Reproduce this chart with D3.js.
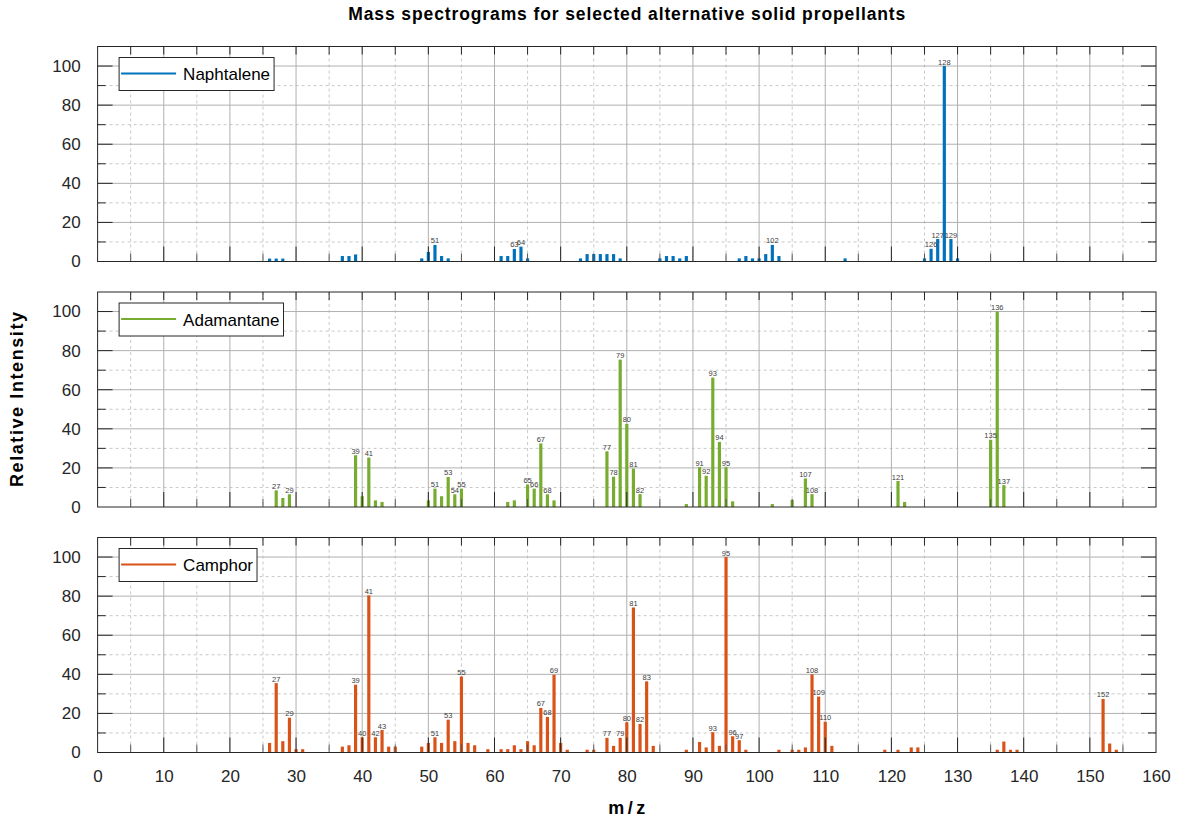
<!DOCTYPE html>
<html>
<head>
<meta charset="utf-8">
<script src="https://cdn.jsdelivr.net/npm/d3@7"></script>
<style>
  html, body { margin: 0; padding: 0; background: #fff; }
  svg { display: block; font-family: "Liberation Sans", Arial, sans-serif; }
</style>
</head>
<body>
<svg id="chart" width="1177" height="822"></svg>
<script>
// ---- Data ----
const seriesNames = ["Naphtalene", "Adamantane", "Camphor"];
const seriesColors = ["#0072BD", "#77AC30", "#D95319"];

const naphMz  = [26,27,28,37,38,39,49,50,51,52,53,61,62,63,64,65,73,74,75,76,77,78,79,85,86,87,88,89,97,98,99,100,101,102,103,113,125,126,127,128,129,130];
const naphVal = [1.5,1.5,1.5,2.8,2.8,3.6,1.6,4.9,8.5,2.8,1.6,2.8,2.8,6.4,7.6,1.6,1.6,3.8,3.8,3.8,3.8,3.8,1.6,1.6,2.8,2.8,1.6,2.8,1.6,2.8,1.6,1.6,3.8,8.5,2.8,1.6,1.6,6.5,11.5,100,11.5,1.6];

const adamMz  = [27,28,29,39,40,41,42,43,50,51,52,53,54,55,62,63,65,66,67,68,69,77,78,79,80,81,82,89,91,92,93,94,95,96,102,105,107,108,121,122,135,136,137];
const adamVal = [8.5,4.6,6.5,26.5,5.5,25.3,3.4,2.6,3.4,9.4,5.5,15.4,6.5,9.4,2.6,3.4,11.5,9.4,32.5,6.5,3.4,28.5,15.5,75.4,42.5,19.7,6.6,1.5,20.4,16,66.2,33.3,20.4,2.9,1.5,3.6,14.6,6.6,13.3,2.6,34.4,100,11.2];

const campMz  = [26,27,28,29,30,31,37,38,39,40,41,42,43,44,45,49,50,51,52,53,54,55,56,57,59,61,62,63,64,65,66,67,68,69,70,71,74,75,77,78,79,80,81,82,83,84,89,91,92,93,94,95,96,97,98,103,105,106,107,108,109,110,111,119,121,123,124,136,137,138,139,152,153,154];
const campVal = [4.9,35.5,5.8,17.8,1.7,1.7,3,3.7,34.7,7.8,80.4,7.8,11.5,3,3,3,4.9,7.8,4.9,16.8,5.8,38.9,4.9,3.7,1.7,1.7,1.7,3.7,1.7,5.8,3.7,22.8,18.2,39.8,4.9,1.4,1.4,1.4,7.5,3.4,7.5,15.5,74.2,14.6,36.4,3.4,1.4,5.4,2.6,10.4,3.4,100,8.3,6.3,1.4,1.4,1.4,1.4,2.6,40,28.6,15.7,3.4,1.4,1.4,2.6,2.6,1.4,5.6,1.4,1.4,27.4,4.6,1.4];

const labelThreshold = 6;           // peaks above this get an m/z annotation
const xTickValues = d3.range(0, 161, 10);
const yTickValues = [0, 20, 40, 60, 80, 100];
const titleText = "Mass spectrograms for selected alternative solid propellants";
const xLabelText = "m/z";
const yLabelText = "Relative Intensity";

// ---- Layout ----
const svg = d3.select("#chart");
const left = 97.6, right = 1156;
const panelTops = [46.5, 292, 537.5];
const panelH = 215;
const axisColor = "#262626";

const x = d3.scaleLinear().domain([0, 160]).range([left, right]);
const barW = (x(1) - x(0)) * 0.48;

const allSeries = [
  {mz: naphMz, val: naphVal},
  {mz: adamMz, val: adamVal},
  {mz: campMz, val: campVal}
];

allSeries.forEach((s, i) => {
  const top = panelTops[i];
  const y = d3.scaleLinear().domain([0, 110]).range([top + panelH, top]);
  const g = svg.append("g");
  const data = s.mz.map((m, k) => ({mz: m, v: s.val[k]}));

  // minor grid (dashed)
  g.append("g").selectAll("line").data(d3.range(5, 160, 10)).join("line")
    .attr("x1", d => x(d)).attr("x2", d => x(d))
    .attr("y1", top).attr("y2", top + panelH)
    .attr("stroke", "#c8c8c8").attr("stroke-width", 1).attr("stroke-dasharray", "3,3");
  g.append("g").selectAll("line").data(d3.range(10, 110, 20)).join("line")
    .attr("x1", left).attr("x2", right)
    .attr("y1", d => y(d)).attr("y2", d => y(d))
    .attr("stroke", "#c8c8c8").attr("stroke-width", 1).attr("stroke-dasharray", "3,3");
  // major grid
  g.append("g").selectAll("line").data(d3.range(10, 160, 10)).join("line")
    .attr("x1", d => x(d)).attr("x2", d => x(d))
    .attr("y1", top).attr("y2", top + panelH)
    .attr("stroke", "#b0b0b0").attr("stroke-width", 1);
  g.append("g").selectAll("line").data(d3.range(20, 110, 20)).join("line")
    .attr("x1", left).attr("x2", right)
    .attr("y1", d => y(d)).attr("y2", d => y(d))
    .attr("stroke", "#b0b0b0").attr("stroke-width", 1);

  // bars
  g.append("g").selectAll("rect").data(data).join("rect")
    .attr("x", d => x(d.mz) - barW / 2)
    .attr("width", barW)
    .attr("y", d => y(d.v))
    .attr("height", d => y(0) - y(d.v))
    .attr("fill", seriesColors[i]);

  // peak labels
  g.append("g").selectAll("text").data(data.filter(d => d.v > labelThreshold)).join("text")
    .attr("x", d => x(d.mz))
    .attr("y", d => y(d.v) - 1.5)
    .attr("text-anchor", "middle")
    .attr("font-size", 7.5)
    .attr("fill", "#404040")
    .text(d => d.mz);

  // ticks (inward)
  const tk = g.append("g").attr("stroke", axisColor).attr("stroke-width", 1);
  d3.range(5, 160, 5).forEach(t => {
    const major = t % 10 === 0;
    const L = major ? 15 : 8;
    tk.append("line").attr("x1", x(t)).attr("x2", x(t))
      .attr("y1", top + panelH).attr("y2", top + panelH - L)
      .attr("stroke", major ? axisColor : "#555");
    tk.append("line").attr("x1", x(t)).attr("x2", x(t))
      .attr("y1", top).attr("y2", top + 8);
  });
  d3.range(10, 110, 10).forEach(t => {
    const major = t % 20 === 0;
    const L = major ? 15 : 8;
    tk.append("line").attr("x1", left).attr("x2", left + L)
      .attr("y1", y(t)).attr("y2", y(t));
    tk.append("line").attr("x1", right).attr("x2", right - L)
      .attr("y1", y(t)).attr("y2", y(t));
  });

  // box
  g.append("rect").attr("x", left).attr("y", top)
    .attr("width", right - left).attr("height", panelH)
    .attr("fill", "none").attr("stroke", axisColor).attr("stroke-width", 1);

  // y axis labels via d3 axis
  const yAxis = d3.axisLeft(y).tickValues(yTickValues).tickSize(0).tickPadding(17);
  const ya = g.append("g").attr("transform", `translate(${left},0)`).call(yAxis);
  ya.select(".domain").remove();
  ya.selectAll("text").attr("font-size", 17).attr("fill", axisColor)
    .attr("font-family", "Liberation Sans, Arial, sans-serif");

  // legend
  const lg = g.append("g").attr("transform", `translate(${left + 21.5},${top + 11})`);
  const txt = lg.append("text").attr("x", 64).attr("y", 17).attr("dy", "0.35em")
    .attr("font-size", 17).attr("fill", "#000").text(seriesNames[i]);
  const tw = txt.node().getComputedTextLength();
  lg.insert("rect", "text").attr("x", 0).attr("y", 0)
    .attr("width", 64 + tw + 4).attr("height", 33)
    .attr("fill", "#fff").attr("stroke", axisColor).attr("stroke-width", 1);
  lg.append("line").attr("x1", 2).attr("x2", 57).attr("y1", 16).attr("y2", 16)
    .attr("stroke", seriesColors[i]).attr("stroke-width", 2);

  if (i === 2) {
    const xAxis = d3.axisBottom(x).tickValues(xTickValues).tickSize(0).tickPadding(17);
    const xa = g.append("g").attr("transform", `translate(0,${top + panelH})`).call(xAxis);
    xa.select(".domain").remove();
    xa.selectAll("text").attr("font-size", 17).attr("fill", axisColor)
      .attr("font-family", "Liberation Sans, Arial, sans-serif");
  }
});

// title and axis labels
svg.append("text").attr("x", (left + right) / 2).attr("y", 14).attr("dy", "0.35em")
  .attr("text-anchor", "middle").attr("font-weight", "bold").attr("font-size", 17.5)
  .attr("textLength", 557).attr("lengthAdjust", "spacing")
  .attr("fill", "#000").text(titleText);
svg.append("text").attr("x", (left + right) / 2).attr("y", 808).attr("dy", "0.35em")
  .attr("text-anchor", "middle").attr("font-weight", "bold").attr("font-size", 18)
  .attr("textLength", 37).attr("lengthAdjust", "spacing")
  .attr("fill", "#000").text(xLabelText);
svg.append("text").attr("transform", `translate(17,${(panelTops[0] + panelTops[2] + panelH) / 2}) rotate(-90)`)
  .attr("dy", "0.35em")
  .attr("text-anchor", "middle").attr("font-weight", "bold").attr("font-size", 18)
  .attr("textLength", 175).attr("lengthAdjust", "spacing")
  .attr("fill", "#000").text(yLabelText);
</script>
</body>
</html>
